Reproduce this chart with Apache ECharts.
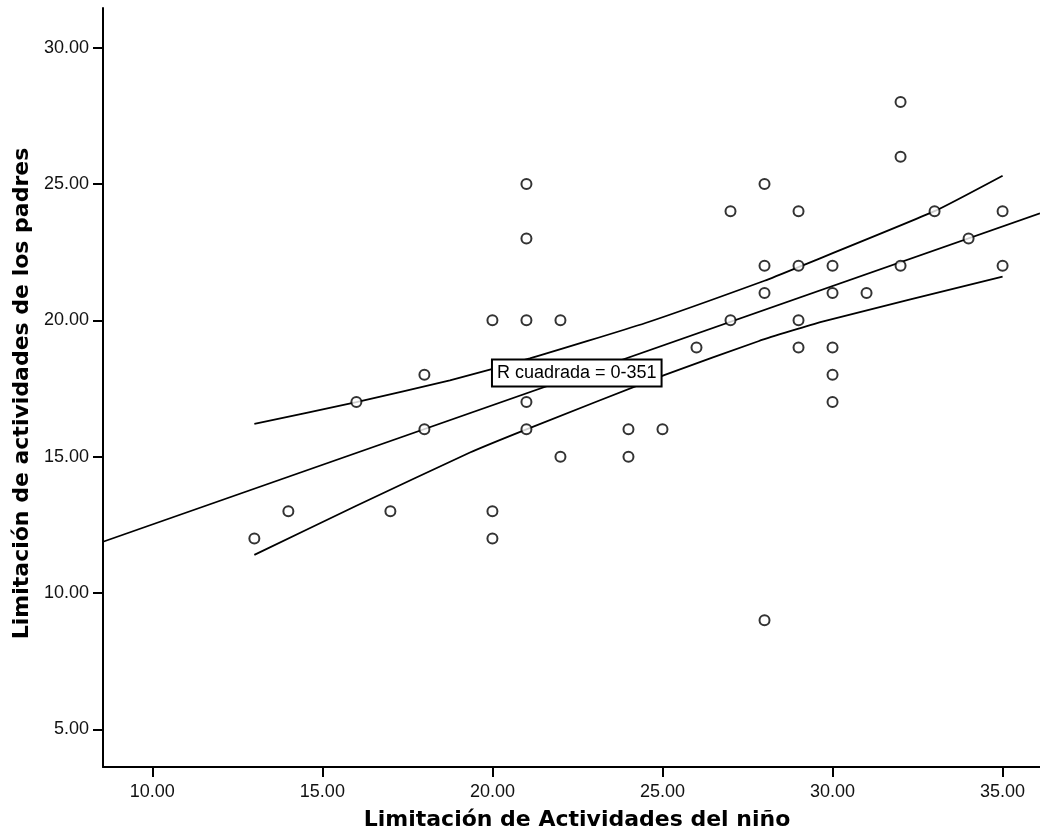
<!DOCTYPE html>
<html>
<head>
<meta charset="utf-8">
<title>Limitación de actividades</title>
<script src="https://cdn.jsdelivr.net/npm/echarts@6/dist/echarts.min.js"></script>
<style>
  html, body { margin: 0; padding: 0; background: #fff; }
  #chart { width: 1040px; height: 839px; }
</style>
</head>
<body>
<div id="chart"></div>
<script>
// puntos observados (niño, padres)
var puntos = [
  [13, 12], [14, 13], [16, 17], [17, 13], [18, 18], [18, 16],
  [20, 20], [20, 13], [20, 12],
  [21, 25], [21, 23], [21, 20], [21, 17], [21, 16],
  [22, 20], [22, 15], [24, 16], [24, 15], [25, 16], [26, 19],
  [27, 24], [27, 20],
  [28, 25], [28, 22], [28, 21], [28, 9],
  [29, 24], [29, 22], [29, 20], [29, 19],
  [30, 22], [30, 21], [30, 19], [30, 18], [30, 17],
  [31, 21], [32, 28], [32, 26], [32, 22], [33, 24], [34, 23],
  [35, 24], [35, 22]
];
var recta = [[8.55, 11.88], [36.1, 23.92]];
// bandas de confianza
var bandaSup = [[13, 16.2], [16, 17.0], [18.75, 17.8], [21.1, 18.6], [24.5, 19.9],
  [28, 21.45], [29, 21.95], [33, 24.0], [35, 25.3]];
var bandaInf = [[13, 11.4], [16, 13.2], [19.34, 15.15], [21, 16.0], [25.07, 18.0],
  [27.86, 19.25], [29.7, 19.95], [35, 21.6]];
var ticksX = [10, 15, 20, 25, 30, 35];
var ticksY = [5, 10, 15, 20, 25, 30];
var etiquetaR = 'R cuadrada = 0-351';

var chart = echarts.init(document.getElementById('chart'));

var lineaNegra = { color: '#000', width: 1.8 };
var fuenteTick = { fontFamily: 'Liberation Sans', fontSize: 18, color: '#111' };
var fuenteTitulo = { fontFamily: 'DejaVu Sans', fontWeight: 'bold', fontSize: 22, color: '#000' };

chart.setOption({
  animation: false,
  backgroundColor: '#fff',
  grid: { left: 103, right: 0, top: 8, bottom: 72, containLabel: false, outerBoundsMode: 'none' },
  xAxis: {
    type: 'value', min: 8.55, max: 36.1,
    name: 'Limitación de Actividades del niño',
    nameLocation: 'middle', nameGap: 42,
    nameTextStyle: Object.assign({ padding: [0, 0, 0, 11] }, fuenteTitulo),
    axisLine: { onZero: false, lineStyle: { color: '#000', width: 2 } },
    axisTick: { show: true, length: 10, lineStyle: { color: '#000', width: 2 }, customValues: ticksX },
    axisLabel: Object.assign({ margin: 16, customValues: ticksX,
      formatter: function (v) { return v.toFixed(2); } }, fuenteTick),
    splitLine: { show: false }
  },
  yAxis: {
    type: 'value', min: 3.62, max: 31.45,
    name: 'Limitación de actividades de los padres',
    nameLocation: 'middle', nameGap: 66,
    nameTextStyle: Object.assign({ padding: [0, 12, 0, 0] }, fuenteTitulo),
    axisLine: { show: true, onZero: false, lineStyle: { color: '#000', width: 2 } },
    axisTick: { show: true, length: 10, lineStyle: { color: '#000', width: 2 }, customValues: ticksY },
    axisLabel: Object.assign({ margin: 14, customValues: ticksY,
      formatter: function (v) { return v.toFixed(2); } }, fuenteTick),
    splitLine: { show: false }
  },
  series: [
    {
      type: 'line', data: bandaSup, showSymbol: false, smooth: 0.15,
      lineStyle: lineaNegra, silent: true, z: 2
    },
    {
      type: 'line', data: bandaInf, showSymbol: false, smooth: 0.15,
      lineStyle: lineaNegra, silent: true, z: 2
    },
    {
      type: 'line', data: recta, showSymbol: false,
      lineStyle: lineaNegra, silent: true, z: 2,
      markPoint: {
        symbol: 'rect', symbolSize: 0, silent: true,
        data: [{ coord: [22.48, 18.07] }],
        label: {
          show: true, position: 'inside', formatter: etiquetaR,
          fontFamily: 'Liberation Sans', fontSize: 18, color: '#000',
          backgroundColor: '#fff', borderColor: '#000', borderWidth: 2,
          padding: [4, 4, 3, 4]
        }
      }
    },
    {
      type: 'scatter', data: puntos, symbol: 'circle', symbolSize: 10,
      itemStyle: { color: '#fff', borderColor: '#000', borderWidth: 2 },
      z: 3
    }
  ]
});
</script>
</body>
</html>
